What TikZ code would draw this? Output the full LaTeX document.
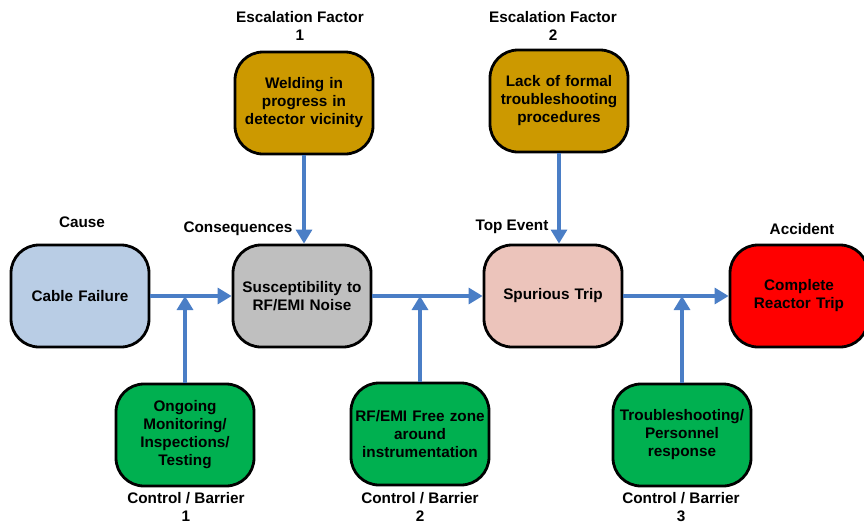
\documentclass[tikz,border=0pt]{standalone}
\usepackage{fontspec}
\setmainfont{Liberation Sans}
\usetikzlibrary{arrows.meta}
\definecolor{cfblue}{HTML}{B9CDE5}
\definecolor{susgray}{HTML}{BFBFBF}
\definecolor{toppink}{HTML}{ECC4BB}
\definecolor{accred}{HTML}{FF0000}
\definecolor{escgold}{HTML}{CC9900}
\definecolor{ctrlgreen}{HTML}{00B050}
\definecolor{linkblue}{HTML}{4A7EC6}
\begin{document}
\begin{tikzpicture}[x=1pt,y=-1pt,
 box/.style={draw=black,line width=2.8pt,rounded corners=28pt,minimum width=138pt,minimum height=102pt,align=center,font=\fontsize{15.3}{18}\selectfont\bfseries,inner sep=2pt,text width=134pt},
 lbl/.style={align=center,font=\fontsize{15.3}{18}\selectfont\bfseries,inner sep=0pt},
 link/.style={draw=linkblue,line width=3.2pt,-{Triangle[length=14pt,width=16pt]}}]
\useasboundingbox (0,0) rectangle (864,525);

% main chain
\node[box,fill=cfblue]   (cf)  at (80,296)  {Cable Failure};
\node[box,fill=susgray]  (sus) at (302,296) {Susceptibility to\\RF/EMI Noise};
\node[box,fill=toppink]  (sp)  at (553,296) {Spurious Trip};
\node[box,fill=accred]   (crt) at (799,296) {Complete\\Reactor Trip};

% escalation factors
\node[box,fill=escgold]  (e1)  at (304,103) {Welding in\\progress in\\detector vicinity};
\node[box,fill=escgold]  (e2)  at (559,101) {Lack of formal\\troubleshooting\\procedures};

% controls
\node[box,fill=ctrlgreen] (c1) at (185,435) {Ongoing\\Monitoring/\\Inspections/\\Testing};
\node[box,fill=ctrlgreen] (c2) at (420,434) {RF/EMI Free zone\\around\\instrumentation};
\node[box,fill=ctrlgreen] (c3) at (682,435) {Troubleshooting/\\Personnel\\response};

% labels
\node[lbl] (lcause) at (82,222)  {Cause};
\node[lbl] (lcons)  at (238,229) {Consequences};
\node[lbl] (ltop)   at (512,227) {Top Event};
\node[lbl] (lacc)   at (802,229) {Accident};
\node[lbl] (le1)    at (300,26)  {Escalation Factor\\1};
\node[lbl] (le2)    at (553,26)  {Escalation Factor\\2};
\node[lbl] (lc1)    at (186,507) {Control / Barrier\\1};
\node[lbl] (lc2)    at (420,507) {Control / Barrier\\2};
\node[lbl] (lc3)    at (681,507) {Control / Barrier\\3};

% connectors
\draw[link] (cf.east) -- (sus.west);
\draw[link] (sus.east) -- (sp.west);
\draw[link] (sp.east) -- (crt.west);
\draw[link] (c1.north) -- (c1.north |- cf.east);
\draw[link] (c2.north) -- (c2.north |- sus.east);
\draw[link] (c3.north) -- (c3.north |- sp.east);
\draw[link] (e1.south) -- (e1.south |- sus.north);
\draw[link] (e2.south) -- (e2.south |- sp.north);
\end{tikzpicture}
\end{document}
